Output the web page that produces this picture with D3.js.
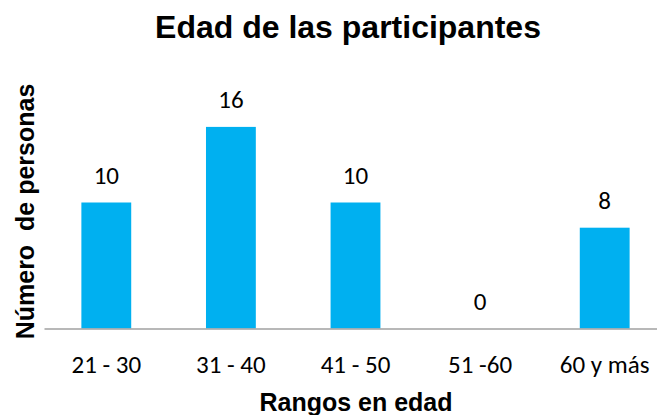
<!DOCTYPE html>
<html lang="es">
    <head>
        <meta charset="utf-8">
        <title>Edad de las participantes</title>
        <script type="text/javascript" src="https://cdn.jsdelivr.net/npm/d3@7"></script>
        <style type="text/css">
            body { margin: 0; background: #fff; }
            svg { display: block; }
        </style>
    </head>

    <body>
        <script type="text/javascript">
            // Data
            var categories = ["21 - 30", "31 - 40", "41 - 50", "51 -60", "60 y más"];
            var personas = [10, 16, 10, 0, 8];
            var yDomainMax = 20;

            var w = 657;
            var h = 415;
            var baseline = 328.5;

            var svg = d3.select("body")
                        .append("svg")
                        .attr("width", w)
                        .attr("height", h);

            // Category band scale - the plot runs past the right edge in the original
            var xScale = d3.scaleBand()
                            .domain(categories)
                            .range([44, 667])
                            .paddingInner(0.6)
                            .paddingOuter(0.3);

            var yScale = d3.scaleLinear()
                            .domain([0, yDomainMax])
                            .range([baseline, baseline - 12.6 * yDomainMax]);

            // Bars
            svg.selectAll("rect.bar")
                .data(personas)
                .enter()
                .append("rect")
                .attr("class", "bar")
                .attr("x", function(d, i) { return xScale(categories[i]); })
                .attr("y", function(d) { return yScale(d); })
                .attr("width", xScale.bandwidth())
                .attr("height", function(d) { return baseline - yScale(d); })
                .attr("fill", "#00B0F0");

            // Value labels above bars
            svg.selectAll("text.value")
                .data(personas)
                .enter()
                .append("text")
                .attr("class", "value")
                .text(function(d) { return d; })
                .attr("x", function(d, i) { return xScale(categories[i]) + xScale.bandwidth() / 2; })
                .attr("y", function(d) { return yScale(d) - 18.5; })
                .attr("text-anchor", "middle")
                .attr("font-family", "Calibri, Carlito, Lato, sans-serif")
                .attr("font-size", "25px")
                .attr("fill", "#000");

            // X axis, no ticks, only the grey base line
            var xAxis = d3.axisBottom(xScale)
                            .tickSize(0)
                            .tickSizeOuter(0);

            var gx = svg.append("g")
                .attr("class", "axis")
                .attr("transform", "translate(0," + baseline + ")")
                .call(xAxis);

            gx.select(".domain")
                .attr("stroke", "#A0A0A0")
                .attr("stroke-width", 1.5);

            gx.selectAll(".tick text")
                .attr("y", 44)
                .attr("dy", 0)
                .attr("font-family", "Calibri, Carlito, Lato, sans-serif")
                .attr("font-size", "25px")
                .attr("fill", "#000");

            // Titles
            svg.append("text")
                .text("Edad de las participantes")
                .attr("x", 348)
                .attr("y", 38)
                .attr("text-anchor", "middle")
                .attr("font-family", "'Liberation Sans', Arial, sans-serif")
                .attr("font-weight", "bold")
                .attr("font-size", "32px");

            svg.append("text")
                .text("Rangos en edad")
                .attr("x", 356)
                .attr("y", 411)
                .attr("text-anchor", "middle")
                .attr("font-family", "'Liberation Sans', Arial, sans-serif")
                .attr("font-weight", "bold")
                .attr("font-size", "25px");

            svg.append("text")
                .text("Número  de personas")
                .attr("transform", "translate(34,211.5) rotate(-90)")
                .attr("text-anchor", "middle")
                .attr("xml:space", "preserve")
                .style("white-space", "pre")
                .attr("font-family", "'Liberation Sans', Arial, sans-serif")
                .attr("font-weight", "bold")
                .attr("font-size", "25px");
        </script>
    </body>
</html>
